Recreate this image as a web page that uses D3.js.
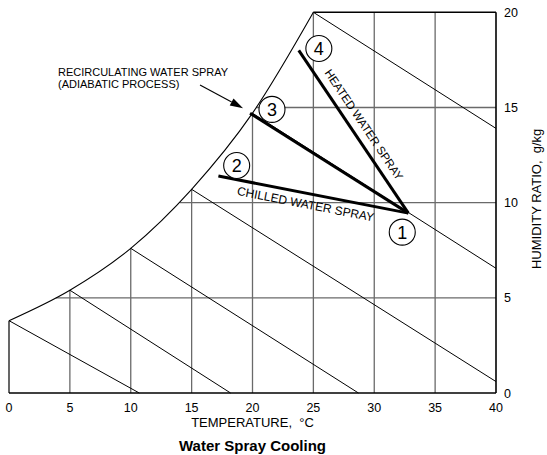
<!DOCTYPE html>
<html><head><meta charset="utf-8">
<script src="https://cdn.jsdelivr.net/npm/d3@7"></script>
<style>body{margin:0;background:#fff}svg{display:block}text{font-family:"Liberation Sans",Arial,Helvetica,sans-serif;fill:#000}</style>
</head><body><svg id="c" width="547" height="455"></svg>
<script>
// ---- data ----
const satTemp = [0, 5, 10, 15, 20, 25];
const satW = [3.8, 5.4, 7.6, 10.7, 14.7, 20.0];
const xTicks = [0, 5, 10, 15, 20, 25, 30, 35, 40];
const yTicks = [0, 5, 10, 15, 20];
const vGrid = [5, 10, 15, 20, 25, 30, 35];
const hGrid = [5, 10, 15];
const hGridStart = [3.85, 14.05, 20.3];
const wbEndT = [10.7, 18.2, 28.7, 40, 40, 40];
const wbEndW = [0, 0, 0, 0.6, 6.55, 13.9];
const stateNames = ["1", "2", "3", "4"];
const stateT = [32.8, 17.2, 19.8, 23.8];
const stateW = [9.45, 11.4, 14.7, 18.0];
const markerT = [32.3, 18.7, 21.6, 25.45];
const markerW = [8.45, 11.95, 14.9, 18.1];

const svg = d3.select("#c");
const x = d3.scaleLinear().domain([0, 40]).range([9, 496]);
const y = d3.scaleLinear().domain([0, 20]).range([393, 12.3]);
const satAt = t => { const i = satTemp.indexOf(t); return i >= 0 ? satW[i] : 20; };

// grid
const g = svg.append("g");
g.selectAll(".v").data(vGrid).join("line")
  .attr("x1", d => x(d)).attr("x2", d => x(d))
  .attr("y1", y(0)).attr("y2", d => y(Math.min(20, satAt(d))))
  .attr("stroke", "#6a6a6a").attr("stroke-width", 1.3);
g.selectAll(".h").data(hGrid).join("line")
  .attr("x1", (d, i) => x(hGridStart[i])).attr("x2", x(40))
  .attr("y1", d => y(d)).attr("y2", d => y(d))
  .attr("stroke", "#6a6a6a").attr("stroke-width", 1.3);

// wet-bulb lines
g.selectAll(".wb").data(satTemp).join("line")
  .attr("x1", d => x(d)).attr("y1", (d, i) => y(satW[i]))
  .attr("x2", (d, i) => x(wbEndT[i])).attr("y2", (d, i) => y(wbEndW[i]))
  .attr("stroke", "#000").attr("stroke-width", 1);

// saturation curve
const line = d3.line().x(d => x(d[0])).y(d => y(d[1])).curve(d3.curveMonotoneX);
g.append("path").attr("d", line(satTemp.map((t, i) => [t, satW[i]])))
  .attr("fill", "none").attr("stroke", "#000").attr("stroke-width", 1.1);

// frame
const frame = [[[0, satW[0]], [0, 0]], [[0, 0], [40, 0]], [[40, 0], [40, 20]], [[40, 20], [25, 20]]];
g.selectAll(".f").data(frame).join("line")
  .attr("x1", d => x(d[0][0])).attr("y1", d => y(d[0][1]))
  .attr("x2", d => x(d[1][0])).attr("y2", d => y(d[1][1]))
  .attr("stroke", "#000").attr("stroke-width", (d, i) => i === 0 ? 1.2 : 1.6);

// process lines
const procIdx = [1, 2, 3];
g.selectAll(".p").data(procIdx).join("line")
  .attr("x1", x(stateT[0])).attr("y1", y(stateW[0]))
  .attr("x2", d => x(stateT[d])).attr("y2", d => y(stateW[d]))
  .attr("stroke", "#000").attr("stroke-width", 3).attr("stroke-linecap", "butt");

// state markers
const m = g.selectAll(".m").data(stateNames).join("g")
  .attr("transform", (d, i) => `translate(${x(markerT[i])},${y(markerW[i])})`);
m.append("circle").attr("r", 13).attr("fill", "#fff").attr("stroke", "#000").attr("stroke-width", 1.1);
m.append("text").text(d => d).attr("text-anchor", "middle").attr("dy", "0.36em")
  .style("font-size", "18px");

// process labels
function alongLabel(i, t, off, txt, size) {
  const x1 = x(stateT[i]), y1 = y(stateW[i]), x2 = x(stateT[0]), y2 = y(stateW[0]);
  const ang = Math.atan2(y2 - y1, x2 - x1) * 180 / Math.PI;
  const px = x1 + (x2 - x1) * t, py = y1 + (y2 - y1) * t;
  g.append("text").text(txt)
    .attr("transform", `translate(${px},${py}) rotate(${ang})`)
    .attr("x", 0).attr("y", off).attr("text-anchor", "middle")
    .style("font-size", size + "px");
}
alongLabel(1, 0.47, 15, "CHILLED WATER SPRAY", 12);
alongLabel(3, 0.5, -8.5, "HEATED WATER SPRAY", 11.5);

// recirculating annotation
g.append("text").attr("x", 58).attr("y", 76).text("RECIRCULATING WATER SPRAY").style("font-size", "11px");
g.append("text").attr("x", 58).attr("y", 87.5).text("(ADIABATIC PROCESS)").style("font-size", "11px");
const ax0 = 200, ay0 = 85, ax1 = x(stateT[2]) - 7, ay1 = y(stateW[2]) - 5;
const aa = Math.atan2(ay1 - ay0, ax1 - ax0);
const hl = 13, hw = 4;
const bx = ax1 - hl * Math.cos(aa), by = ay1 - hl * Math.sin(aa);
g.append("line").attr("x1", ax0).attr("y1", ay0).attr("x2", bx).attr("y2", by)
  .attr("stroke", "#000").attr("stroke-width", 1.1);
g.append("path").attr("d", `M${ax1},${ay1}L${bx + hw * Math.sin(aa)},${by - hw * Math.cos(aa)}L${bx - hw * Math.sin(aa)},${by + hw * Math.cos(aa)}Z`)
  .attr("fill", "#000");

// ticks
g.selectAll(".xt").data(xTicks).join("text").text(d => d)
  .attr("x", d => x(d)).attr("y", 412).attr("text-anchor", "middle").style("font-size", "12.5px");
g.selectAll(".yt").data(yTicks).join("text").text(d => d)
  .attr("x", 504).attr("y", d => y(d)).attr("dy", "0.36em").style("font-size", "12.5px");

// axis titles
g.append("text").attr("x", x(20)).attr("y", 427).attr("text-anchor", "middle")
  .style("font-size", "13px").style("white-space", "pre").text("TEMPERATURE,  °C");
g.append("text").attr("transform", `translate(541,${y(10.2)}) rotate(-90)`).attr("text-anchor", "middle")
  .style("font-size", "13px").style("white-space", "pre").text("HUMIDITY RATIO,  g/kg");
g.append("text").attr("x", x(20)).attr("y", 451).attr("text-anchor", "middle")
  .style("font-size", "15px").style("font-weight", "bold").text("Water Spray Cooling");
</script></body></html>
